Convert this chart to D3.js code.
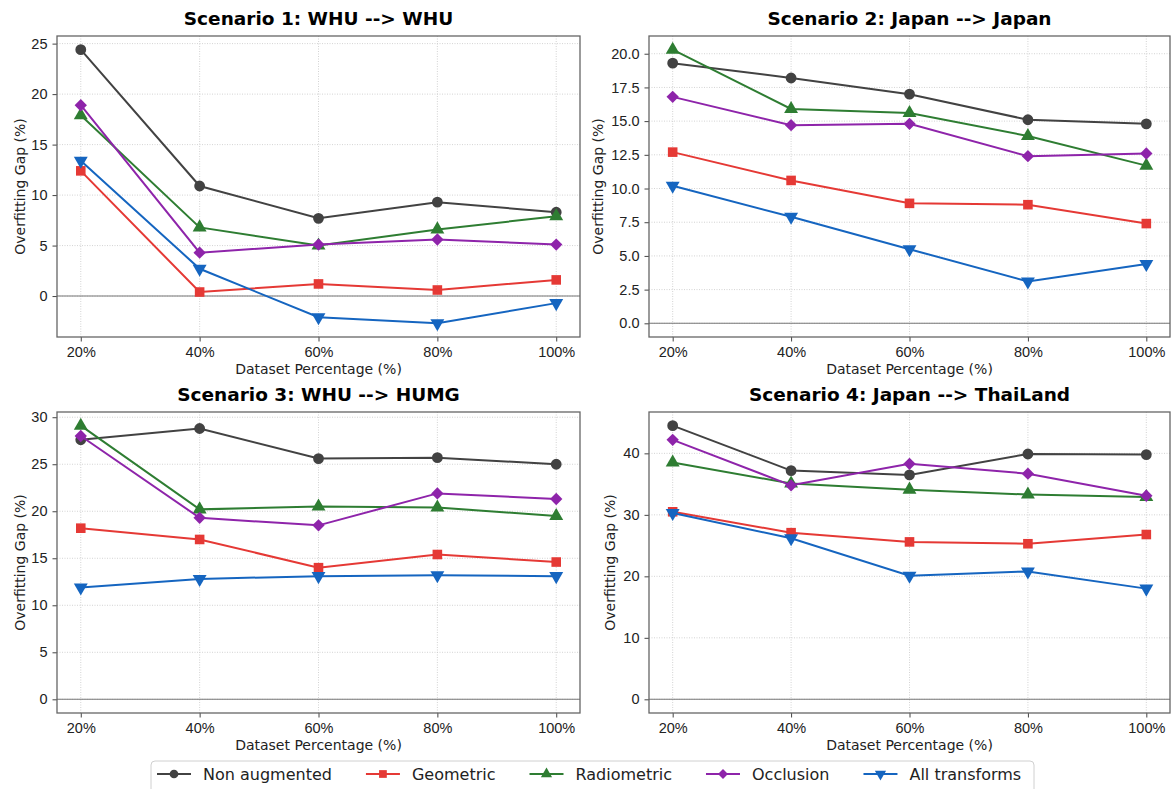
<!DOCTYPE html>
<html>
<head>
<meta charset="utf-8">
<script src="https://cdn.jsdelivr.net/npm/d3@7"></script>
<style>
  body { margin: 0; background: #fff; }
  svg { font-family: "DejaVu Sans", sans-serif; }
</style>
</head>
<body>
<div id="chart"></div>
<script>
// categories and series names
let percentages = ["20%", "40%", "60%", "80%", "100%"];
let seriesNames = ["Non augmented", "Geometric", "Radiometric", "Occlusion", "All transforms"];
let titles = ["Scenario 1: WHU --> WHU", "Scenario 2: Japan --> Japan",
              "Scenario 3: WHU --> HUMG", "Scenario 4: Japan --> ThaiLand"];

// overfitting gap values, one array per series per scenario
let s1_non   = [24.4, 10.9, 7.7, 9.3, 8.3];
let s1_geo   = [12.4, 0.4, 1.2, 0.6, 1.6];
let s1_radio = [17.9, 6.8, 5.0, 6.6, 7.9];
let s1_occ   = [18.9, 4.3, 5.1, 5.6, 5.1];
let s1_all   = [13.4, 2.7, -2.1, -2.7, -0.7];

let s2_non   = [19.3, 18.2, 17.0, 15.1, 14.8];
let s2_geo   = [12.7, 10.6, 8.9, 8.8, 7.4];
let s2_radio = [20.3, 15.9, 15.6, 13.9, 11.7];
let s2_occ   = [16.8, 14.7, 14.8, 12.4, 12.6];
let s2_all   = [10.2, 7.9, 5.5, 3.1, 4.4];

let s3_non   = [27.6, 28.8, 25.6, 25.7, 25.0];
let s3_geo   = [18.2, 17.0, 14.0, 15.4, 14.6];
let s3_radio = [29.1, 20.2, 20.5, 20.4, 19.5];
let s3_occ   = [28.0, 19.3, 18.5, 21.9, 21.3];
let s3_all   = [11.9, 12.8, 13.1, 13.2, 13.1];

let s4_non   = [44.5, 37.2, 36.5, 39.9, 39.8];
let s4_geo   = [30.5, 27.1, 25.6, 25.3, 26.8];
let s4_radio = [38.5, 35.1, 34.1, 33.3, 32.9];
let s4_occ   = [42.2, 34.8, 38.3, 36.7, 33.1];
let s4_all   = [30.3, 26.2, 20.1, 20.8, 18.0];

// y tick values per scenario
let ticks1 = [0, 5, 10, 15, 20, 25];
let ticks2 = [0, 2.5, 5, 7.5, 10, 12.5, 15, 17.5, 20];
let ticks3 = [0, 5, 10, 15, 20, 25, 30];
let ticks4 = [0, 10, 20, 30, 40];

let colors = ["#424242", "#e53935", "#2e7d32", "#8e24aa", "#1565c0"];
let markers = ["circle", "square", "triangle", "diamond", "triangleDown"];

let width = 1174, height = 789;

let panels = [
  {title: titles[0], series: [s1_non, s1_geo, s1_radio, s1_occ, s1_all], ticks: ticks1, fmt: d3.format("d"),
   left: 57, right: 580, top: 36, bottom: 337, ylabX: 20},
  {title: titles[1], series: [s2_non, s2_geo, s2_radio, s2_occ, s2_all], ticks: ticks2, fmt: d3.format(".1f"),
   left: 649, right: 1170, top: 36, bottom: 337, ylabX: 598},
  {title: titles[2], series: [s3_non, s3_geo, s3_radio, s3_occ, s3_all], ticks: ticks3, fmt: d3.format("d"),
   left: 57, right: 580, top: 412, bottom: 713, ylabX: 20},
  {title: titles[3], series: [s4_non, s4_geo, s4_radio, s4_occ, s4_all], ticks: ticks4, fmt: d3.format("d"),
   left: 649, right: 1170, top: 412, bottom: 713, ylabX: 610}
];

let svg = d3.select("#chart").append("svg").attr("width", width).attr("height", height);

function markerPath(type, size) {
  if (type == "circle") return d3.symbol(d3.symbolCircle, size)();
  if (type == "square" || type == "diamond") return d3.symbol(d3.symbolSquare, size)();
  return d3.symbol(d3.symbolTriangle, size)();
}
function markerRotate(type) {
  if (type == "triangleDown") return 180;
  if (type == "diamond") return 45;
  return 0;
}
function markerSize(type) {
  if (type == "circle") return 92;
  if (type == "square") return 92;
  if (type == "diamond") return 76;
  return 84;
}

panels.forEach(function(p) {
  let allVals = d3.merge(p.series).concat([0]);
  let [lo, hi] = d3.extent(allVals);
  let pad = (hi - lo) * 0.05;
  let yScale = d3.scaleLinear().domain([lo - pad, hi + pad]).range([p.bottom, p.top]);
  let xScale = d3.scaleLinear().domain([-0.2, 4.2]).range([p.left, p.right]);

  let g = svg.append("g");

  // grid
  g.selectAll(".vgrid").data(d3.range(5)).enter().append("line")
    .attr("x1", d => xScale(d)).attr("x2", d => xScale(d))
    .attr("y1", p.top).attr("y2", p.bottom)
    .attr("stroke", "#c8c8c8").attr("stroke-width", 0.8).attr("stroke-dasharray", "1,1.5");
  g.selectAll(".hgrid").data(p.ticks).enter().append("line")
    .attr("x1", p.left).attr("x2", p.right)
    .attr("y1", d => yScale(d)).attr("y2", d => yScale(d))
    .attr("stroke", "#c8c8c8").attr("stroke-width", 0.8).attr("stroke-dasharray", "1,1.5");

  // zero line
  g.append("line")
    .attr("x1", p.left).attr("x2", p.right)
    .attr("y1", yScale(0)).attr("y2", yScale(0))
    .attr("stroke", "#777").attr("stroke-width", 1.1);

  // axes
  let xAxis = g.append("g").attr("transform", `translate(0, ${p.bottom})`)
    .call(d3.axisBottom(xScale).tickValues(d3.range(5)).tickFormat(i => percentages[i]).tickSizeOuter(0).tickSize(4.5).tickPadding(5));
  let yAxis = g.append("g").attr("transform", `translate(${p.left}, 0)`)
    .call(d3.axisLeft(yScale).tickValues(p.ticks).tickFormat(p.fmt).tickSizeOuter(0).tickSize(4.5).tickPadding(5));
  [xAxis, yAxis].forEach(function(a) {
    a.select(".domain").remove();
    a.selectAll(".tick line").attr("stroke", "#444").attr("stroke-width", 1);
    a.selectAll(".tick text").attr("fill", "#222").style("font-size", "14.5px");
  });

  // lines and markers
  p.series.forEach(function(vals, s) {
    let line = d3.line().x((d, i) => xScale(i)).y(d => yScale(d));
    g.append("path").datum(vals)
      .attr("d", line).attr("fill", "none")
      .attr("stroke", colors[s]).attr("stroke-width", 2);
    g.selectAll(".m" + s).data(vals).enter().append("path")
      .attr("d", markerPath(markers[s], markerSize(markers[s])))
      .attr("transform", (d, i) => `translate(${xScale(i)}, ${yScale(d)}) rotate(${markerRotate(markers[s])})`)
      .attr("fill", colors[s]);
  });

  // frame
  g.append("rect")
    .attr("x", p.left).attr("y", p.top)
    .attr("width", p.right - p.left).attr("height", p.bottom - p.top)
    .attr("fill", "none").attr("stroke", "#666").attr("stroke-width", 1.3);

  // title
  g.append("text")
    .attr("x", (p.left + p.right) / 2).attr("y", p.top - 11)
    .attr("text-anchor", "middle")
    .style("font-size", "18.5px").style("font-weight", "bold")
    .text(p.title);

  g.append("text")
    .attr("x", (p.left + p.right) / 2).attr("y", p.bottom + 37)
    .attr("text-anchor", "middle")
    .style("font-size", "14px").attr("fill", "#222")
    .text("Dataset Percentage (%)");

  g.append("text")
    .attr("transform", `translate(${p.ylabX}, ${(p.top + p.bottom) / 2}) rotate(-90)`)
    .attr("text-anchor", "middle").attr("dy", "0.35em")
    .style("font-size", "14px").attr("fill", "#222")
    .text("Overfitting Gap (%)");
});

// legend
let legend = svg.append("g");
legend.append("rect")
  .attr("x", 151).attr("y", 761).attr("width", 883).attr("height", 40)
  .attr("rx", 4).attr("fill", "#fff").attr("stroke", "#d0d0d0").attr("stroke-width", 1);
let lx = 157;
seriesNames.forEach(function(name, s) {
  let item = legend.append("g").attr("transform", `translate(${lx}, 774)`);
  item.append("line").attr("x1", 0).attr("x2", 34).attr("y1", 0).attr("y2", 0)
    .attr("stroke", colors[s]).attr("stroke-width", 2);
  item.append("path")
    .attr("d", markerPath(markers[s], markerSize(markers[s]) * 0.65))
    .attr("transform", `translate(17, 0) rotate(${markerRotate(markers[s])})`)
    .attr("fill", colors[s]);
  let t = item.append("text").attr("x", 46).attr("dy", "0.35em")
    .style("font-size", "16px").attr("fill", "#222").text(name);
  lx += 46 + t.node().getComputedTextLength() + 34;
});
</script>
</body>
</html>
